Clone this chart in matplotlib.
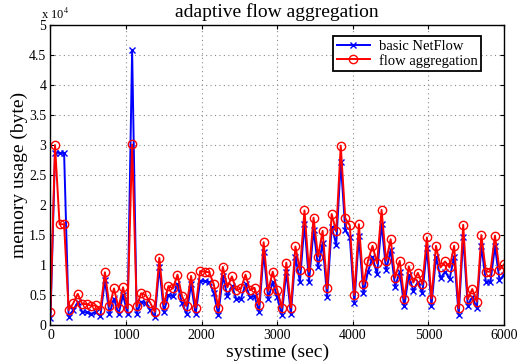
import numpy as np
import matplotlib
matplotlib.use('Agg')
import matplotlib.pyplot as plt
from matplotlib.ticker import FuncFormatter

# sample interval of the trace (sec)
step = 60
# memory usage in units of 1e4 bytes
basic_netflow = [0.12, 2.87, 2.87, 2.87, 0.14, 0.25, 0.38, 0.22, 0.21, 0.19,
                 0.21, 0.15, 0.75, 0.19, 0.44, 0.18, 0.50, 0.18, 4.58, 0.19,
                 0.39, 0.36, 0.25, 0.13, 0.97, 0.22, 0.50, 0.48, 0.68, 0.36,
                 0.19, 0.68, 0.18, 0.74, 0.73, 0.72, 0.53, 0.17, 0.82, 0.48,
                 0.65, 0.43, 0.44, 0.68, 0.46, 0.48, 0.22, 1.21, 0.44, 0.72,
                 0.46, 0.17, 0.89, 0.18, 1.14, 0.72, 1.69, 0.72, 1.59, 0.97,
                 1.36, 0.47, 1.64, 1.34, 2.72, 1.58, 1.46, 0.36, 1.48, 0.53,
                 0.89, 1.13, 0.85, 1.69, 0.91, 1.25, 0.64, 0.89, 0.31, 0.83,
                 0.57, 0.72, 0.53, 1.28, 0.32, 1.14, 0.78, 0.89, 0.77, 1.14,
                 0.17, 1.47, 0.32, 0.47, 0.28, 1.32, 0.72, 0.72, 1.31, 0.75,
                 0.84]
flow_aggregation = [0.21, 3.00, 1.68, 1.68, 0.25, 0.36, 0.52, 0.35, 0.35, 0.32,
                    0.33, 0.25, 0.88, 0.31, 0.61, 0.29, 0.63, 0.28, 3.01, 0.31,
                    0.53, 0.50, 0.37, 0.22, 1.12, 0.34, 0.65, 0.61, 0.84, 0.48,
                    0.32, 0.82, 0.29, 0.90, 0.89, 0.88, 0.68, 0.29, 0.97, 0.63,
                    0.81, 0.58, 0.61, 0.84, 0.58, 0.62, 0.34, 1.38, 0.57, 0.89,
                    0.58, 0.29, 1.04, 0.29, 1.31, 0.92, 1.91, 0.89, 1.79, 1.14,
                    1.57, 0.61, 1.85, 1.56, 2.99, 1.78, 1.66, 0.50, 1.68, 0.68,
                    1.07, 1.32, 1.03, 1.92, 1.07, 1.43, 0.79, 1.07, 0.44, 0.98,
                    0.71, 0.87, 0.68, 1.46, 0.44, 1.32, 0.96, 1.06, 0.96, 1.32,
                    0.28, 1.67, 0.43, 0.60, 0.39, 1.50, 0.89, 0.89, 1.49, 0.92,
                    1.01]
scale = 1e4

t = np.arange(len(flow_aggregation)) * step

plt.rcParams['font.family'] = ['Liberation Serif', 'DejaVu Serif']
plt.rcParams['mathtext.fontset'] = 'stix'

fig = plt.figure(figsize=(5.27, 3.64), dpi=100)
ax = fig.add_axes([0.0958, 0.107, 0.8606, 0.824])

ax.plot(t, np.array(basic_netflow) * scale, '-x', color='blue', lw=1.4,
        ms=4, mew=1.0, label='basic NetFlow')
ax.plot(t, np.array(flow_aggregation) * scale, '-o', color='red', lw=1.4,
        ms=6, mew=1.0, mfc='none', label='flow aggregation')

ax.set_xlim(0, 6000)
ax.set_ylim(0, 5 * scale)
ax.set_xticks(np.arange(0, 6001, 1000))
ax.set_yticks(np.arange(0, 5.01, 0.5) * scale)
ax.yaxis.set_major_formatter(FuncFormatter(lambda v, p: '%g' % (v / scale)))
ax.tick_params(direction='in', length=3, width=0.8, top=True, right=True,
               labelsize=10, pad=3)
ax.grid(True, color='#8c8c8c', linestyle=(0, (1, 3)), linewidth=0.8)
for s in ax.spines.values():
    s.set_linewidth(1.0)

# exponent shown above the y axis, MATLAB style
ax.text(-0.022, 1.012, r'x 10$^4$', transform=ax.transAxes, fontsize=9,
        ha='left', va='bottom')

ax.set_title('adaptive flow aggregation', fontsize=14, pad=6)
ax.set_xlabel('systime (sec)', fontsize=14, labelpad=1)
ax.set_ylabel('memory usage (byte)', fontsize=14, labelpad=1)

leg = ax.legend(loc='upper right', bbox_to_anchor=(0.95, 0.963), fontsize=10.5,
                fancybox=False, shadow=False, framealpha=1, edgecolor='black',
                handlelength=2.3, borderpad=0.25, labelspacing=0.05,
                handletextpad=0.6, borderaxespad=0)
leg.get_frame().set_linewidth(1.3)

fig.savefig('out.png', dpi=100)
